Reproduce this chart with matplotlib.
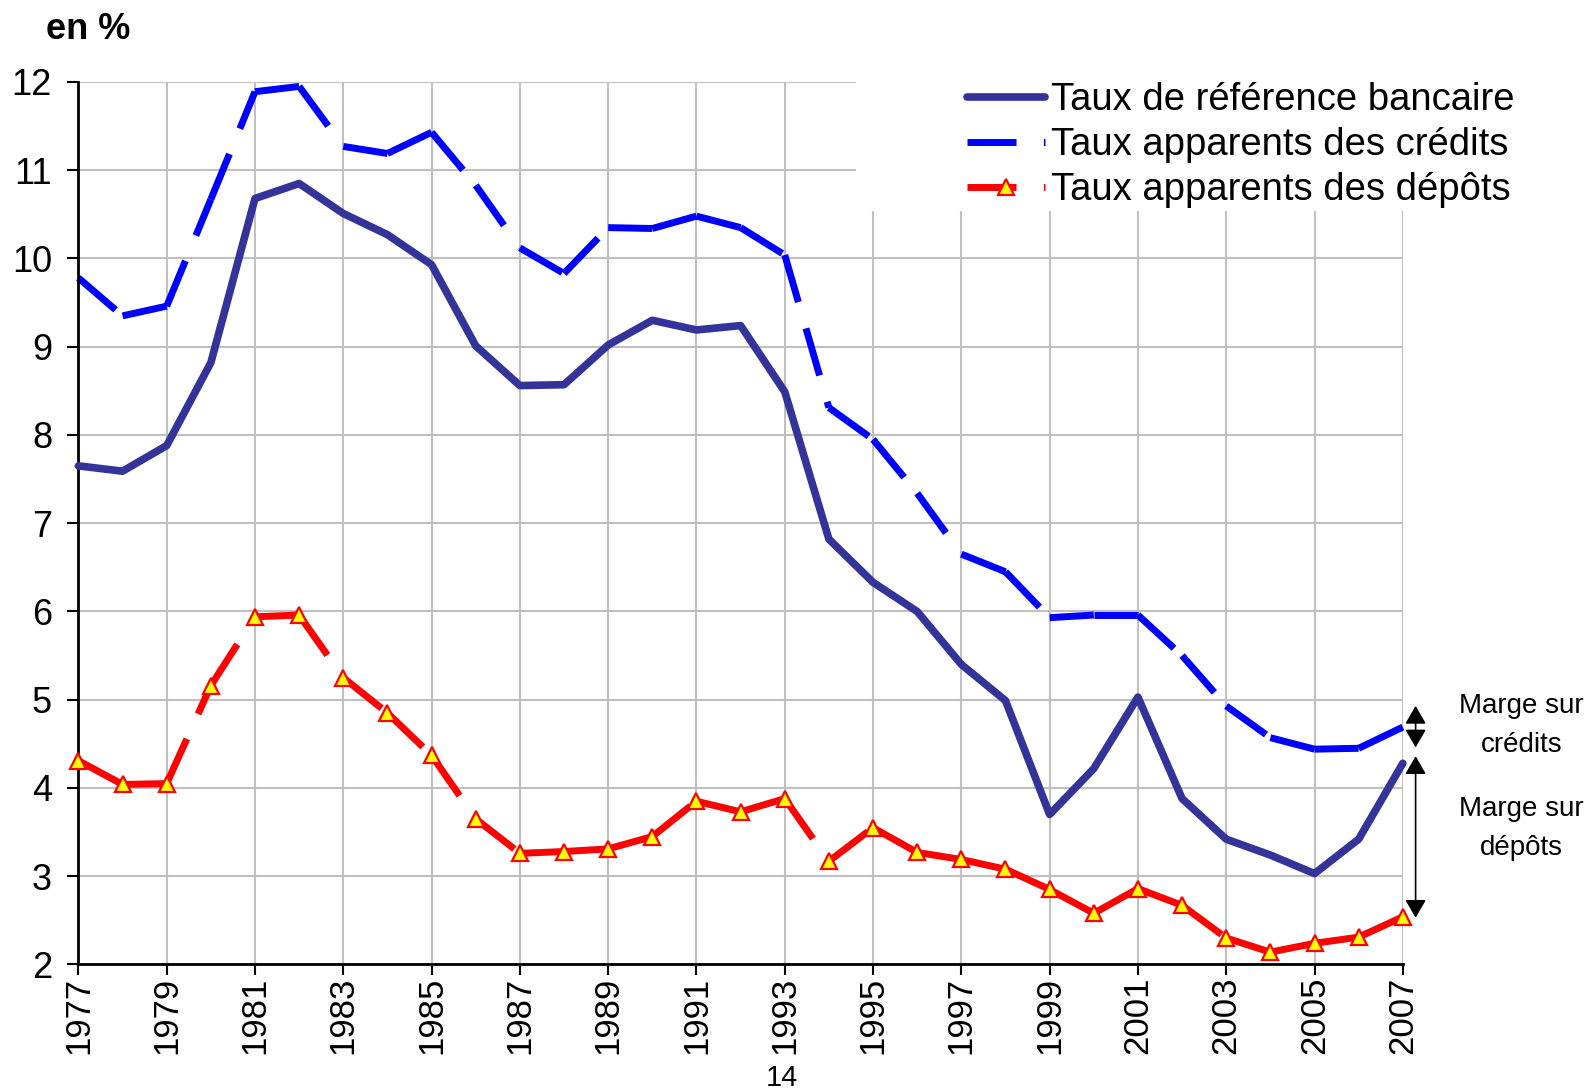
import matplotlib
matplotlib.use("Agg")
import matplotlib.pyplot as plt
from matplotlib.lines import Line2D
from matplotlib.patches import Rectangle

plt.rcParams['font.family'] = ['Liberation Sans', 'DejaVu Sans']
plt.rcParams['lines.scale_dashes'] = False

# data (en %)
years = list(range(1977, 2008))
taux_ref = [7.65, 7.59, 7.88, 8.82, 10.68, 10.85, 10.51, 10.27, 9.93, 9.01,
            8.56, 8.57, 9.02, 9.30, 9.19, 9.24, 8.49, 6.82, 6.33, 6.00,
            5.40, 4.99, 3.70, 4.22, 5.03, 3.88, 3.42, 3.24, 3.03, 3.42, 4.28]
taux_credits = [9.78, 9.35, 9.46, 10.67, 11.89, 11.95, 11.27, 11.19, 11.43, 10.83,
                10.12, 9.83, 10.35, 10.34, 10.48, 10.35, 10.04, 8.31, 7.95, 7.34,
                6.65, 6.45, 5.93, 5.96, 5.96, 5.50, 4.93, 4.57, 4.44, 4.45, 4.69]
taux_depots = [4.31, 4.04, 4.05, 5.16, 5.94, 5.96, 5.25, 4.85, 4.37, 3.65,
               3.26, 3.28, 3.31, 3.45, 3.85, 3.73, 3.88, 3.17, 3.55, 3.27,
               3.19, 3.08, 2.85, 2.58, 2.86, 2.67, 2.30, 2.14, 2.24, 2.31, 2.54]
labels = ['Taux de référence bancaire', 'Taux apparents des crédits',
          'Taux apparents des dépôts']
tick_years = years[::2]

NAVY = '#333399'
BLUE = '#0000FF'
RED = '#FF0000'
YELLOW = '#FFFF00'
DASH = (35.3, 19.7)   # long dash, in points

fig = plt.figure(figsize=(15.88, 10.92), dpi=100)
ax = fig.add_axes([0.04937, 0.11676, 0.83401, 0.80815])
ax.set_xlim(1977, 2007)
ax.set_ylim(2, 12)

# excel restarts the dash pattern on every segment -> draw segment by segment
for i in range(len(years) - 1):
    ax.plot(years[i:i + 2], taux_credits[i:i + 2], color=BLUE, lw=5,
            dashes=DASH, dash_capstyle='butt', clip_on=False, zorder=2)
    ax.plot(years[i:i + 2], taux_depots[i:i + 2], color=RED, lw=5,
            dashes=DASH, dash_capstyle='butt', clip_on=False, zorder=3)

ax.plot(years, taux_ref, color=NAVY, lw=5.5, solid_joinstyle='round',
        solid_capstyle='round', clip_on=False, zorder=3)
ax.plot(years, taux_depots, ls='none', marker='^', ms=11, mfc=YELLOW,
        mec=RED, mew=1.6, clip_on=False, zorder=4)

ax.set_xticks(tick_years)
ax.set_xticklabels([str(y) for y in tick_years], rotation=90, fontsize=25)
ax.set_yticks(range(2, 13))
ax.tick_params(axis='y', labelsize=26)
ax.tick_params(axis='both', direction='out', length=8, width=1.5,
               color='black')
ax.tick_params(axis='y', pad=11)
ax.tick_params(axis='x', pad=1)

ax.grid(True, color='#C0C0C0', lw=1.5)
ax.set_axisbelow(True)
for s in ['top', 'right']:
    ax.spines[s].set_visible(False)
for s in ['left', 'bottom']:
    ax.spines[s].set_linewidth(2)
    ax.spines[s].set_color('black')

# white area behind the legend hides the grid
ax.add_patch(Rectangle((0.5871, 0.8538), 0.45, 0.2, transform=ax.transAxes,
                       facecolor='white', edgecolor='none', zorder=1,
                       clip_on=False))

handles = [
    Line2D([], [], color=NAVY, lw=5.5, solid_capstyle='round'),
    Line2D([], [], color=BLUE, lw=5, dashes=DASH, dash_capstyle='butt'),
    Line2D([], [], color=RED, lw=5, dashes=DASH, dash_capstyle='butt',
           marker='^', ms=11, mfc=YELLOW, mec=RED, mew=1.6),
]
fig.legend(handles, labels, loc='upper left',
           bbox_to_anchor=(966.7 / 1588, 1 - 82 / 1092), frameon=False,
           fontsize=27.5, handlelength=2.05, handletextpad=0.16,
           labelspacing=0.24, borderpad=0, borderaxespad=0)

fig.text(45.6 / 1588, 1 - 39.3 / 1092, 'en %', fontsize=26,
         fontweight='bold', ha='left', va='baseline')
fig.text(782 / 1588, 0.5 / 1092, '14', fontsize=21, ha='center',
         va='bottom')

# margins on the right
marge_lines = [('Marge sur', 4.846), ('crédits', 4.41),
               ('Marge sur', 3.68), ('dépôts', 3.24)]
for txt, yv in marge_lines:
    ax.text(2009.69, yv, txt, fontsize=20, ha='center',
            va='baseline', clip_on=False)

arrow_x = 2007.29
for y0, y1 in [(4.93, 4.46), (4.36, 2.53)]:
    ax.annotate('', xy=(arrow_x, y0), xytext=(arrow_x, y1),
                arrowprops=dict(arrowstyle='<|-|>,head_length=0.55,head_width=0.32',
                                color='black', lw=1.2, shrinkA=0, shrinkB=0,
                                mutation_scale=20),
                annotation_clip=False)

fig.savefig('out.png', dpi=100)
